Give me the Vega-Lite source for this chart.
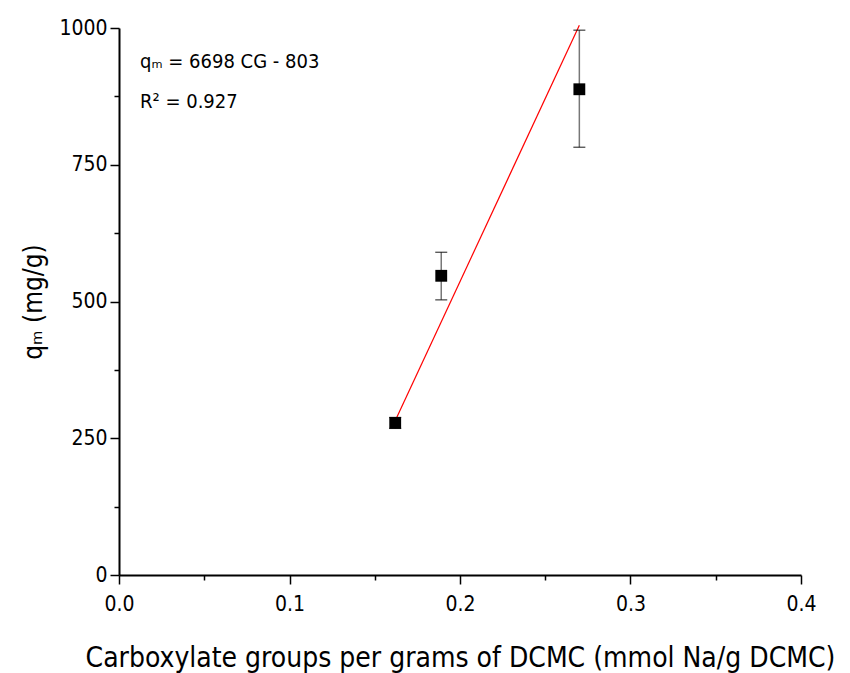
{
  "$schema": "https://vega.github.io/schema/vega-lite/v6.json",
  "autosize": "none",
  "width": 682,
  "height": 547,
  "padding": {"left": 119, "top": 28, "right": 49, "bottom": 98},
  "background": "white",
  "config": {
    "view": {"stroke": null},
    "font": "DejaVu Sans Condensed, Liberation Sans, sans-serif",
    "axis": {"grid": false, "labelFlush": false, "domainColor": "black", "domainWidth": 2, "tickColor": "black", "tickWidth": 1.5, "labelFont": "DejaVu Sans Condensed, Liberation Sans, sans-serif", "titleFont": "DejaVu Sans Condensed, Liberation Sans, sans-serif", "labelColor": "black", "titleColor": "black", "labelFontSize": 21, "titleFontSize": 28, "titleFontWeight": "normal"}
  },
  "datasets": {
    "pts": [
      {"cg": 0.162, "qm": 278, "lo": 268, "hi": 288},
      {"cg": 0.189, "qm": 547, "lo": 503, "hi": 590},
      {"cg": 0.270, "qm": 888, "lo": 782, "hi": 996}
    ],
    "fit": [
      {"cg": 0.162, "qm": 282},
      {"cg": 0.270, "qm": 1005}
    ]
  },
  "layer": [
    {
      "data": {"name": "fit"},
      "mark": {"type": "line", "color": "#ff0000", "strokeWidth": 1.2, "clip": false},
      "encoding": {
        "x": {"field": "cg", "type": "quantitative", "scale": {"domain": [0, 0.4], "nice": false},
          "axis": {"values": [0, 0.05, 0.1, 0.15, 0.2, 0.25, 0.3, 0.35, 0.4], "labelFlush": false, "labelExpr": "abs(datum.value*10 - round(datum.value*10)) < 0.001 ? format(datum.value, '.1f') : ''", "tickSize": {"condition": {"test": "abs(datum.value*10 - round(datum.value*10)) < 0.001", "value": 9}, "value": 5}, "labelPadding": 9, "title": "Carboxylate groups per grams of DCMC (mmol Na/g DCMC)", "titlePadding": 30}},
        "y": {"field": "qm", "type": "quantitative", "scale": {"domain": [0, 1000], "nice": false},
          "axis": {"values": [0, 125, 250, 375, 500, 625, 750, 875, 1000], "labelFlush": false, "labelExpr": "datum.value % 250 == 0 ? datum.value : ''", "tickSize": {"condition": {"test": "datum.value % 250 == 0", "value": 9}, "value": 5}, "labelPadding": 3, "title": "qₘ (mg/g)", "titleFontSize": 26, "titlePadding": 12}}
      }
    },
    {
      "data": {"name": "pts"},
      "mark": {"type": "rule", "color": "#777777", "strokeWidth": 1.5},
      "encoding": {
        "x": {"field": "cg", "type": "quantitative"},
        "y": {"field": "lo", "type": "quantitative"},
        "y2": {"field": "hi"}
      }
    },
    {
      "data": {"name": "pts"},
      "mark": {"type": "tick", "orient": "horizontal", "color": "black", "size": 12, "thickness": 1.3},
      "encoding": {
        "x": {"field": "cg", "type": "quantitative"},
        "y": {"field": "lo", "type": "quantitative"}
      }
    },
    {
      "data": {"name": "pts"},
      "mark": {"type": "tick", "orient": "horizontal", "color": "black", "size": 12, "thickness": 1.3},
      "encoding": {
        "x": {"field": "cg", "type": "quantitative"},
        "y": {"field": "hi", "type": "quantitative"}
      }
    },
    {
      "data": {"name": "pts"},
      "mark": {"type": "square", "color": "black", "filled": true, "opacity": 1, "size": 140},
      "encoding": {
        "x": {"field": "cg", "type": "quantitative"},
        "y": {"field": "qm", "type": "quantitative"}
      }
    },
    {
      "data": {"values": [
        {"cg": 0.0123, "qm": 927, "label": "qₘ = 6698 CG - 803"},
        {"cg": 0.0123, "qm": 854, "label": "R² = 0.927"}
      ]},
      "mark": {"type": "text", "align": "left", "baseline": "alphabetic", "fontSize": 20, "color": "black"},
      "encoding": {
        "x": {"field": "cg", "type": "quantitative"},
        "y": {"field": "qm", "type": "quantitative"},
        "text": {"field": "label"}
      }
    }
  ]
}
